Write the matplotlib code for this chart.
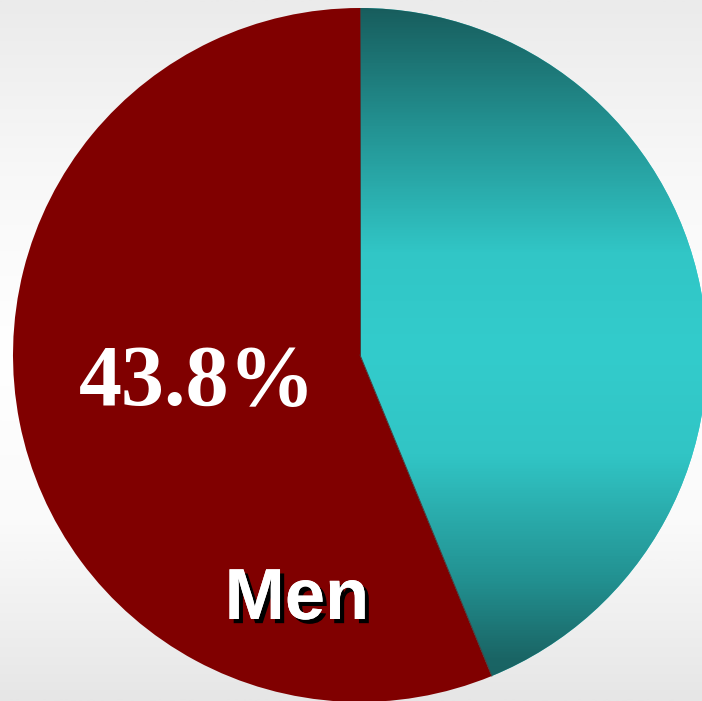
import numpy as np
import matplotlib
matplotlib.use("Agg")
import matplotlib.pyplot as plt
import matplotlib.patheffects as pe
from matplotlib.colors import LinearSegmentedColormap

# slice shares (percent), red slice first, going counterclockwise from 12 o'clock
labels = ["Men", "Women"]
shares = [56.2, 43.8]
colors = ["#800000", "#33cccc"]
pct_text = "43.8%"

W, H = 702, 701
fig = plt.figure(figsize=(W / 100, H / 100), dpi=100)
ax = fig.add_axes([0, 0, 1, 1])

# background: light grey at top and bottom, white in the middle
bg = LinearSegmentedColormap.from_list("bg", ["#e6e6e6", "#fafafa", "#ffffff", "#f8f8f8", "#ebebeb"])
grad = np.linspace(0, 1, 512).reshape(-1, 1)
ax.imshow(grad, cmap=bg, extent=[0, W, 0, H], aspect="auto", zorder=0, origin="lower")

wedges, _ = ax.pie(shares, colors=colors, startangle=90, counterclock=True,
                   center=(360, 346), radius=347, frame=True,
                   wedgeprops=dict(linewidth=0))
ax.set_xlim(0, W)
ax.set_ylim(0, H)
ax.set_aspect("auto")
ax.axis("off")
for w in wedges:
    w.set_zorder(2)

# thin line along the two radii that split the slices
cx, cy = wedges[0].center
r = wedges[0].r
for th in (wedges[0].theta1, wedges[0].theta2):
    t = np.deg2rad(th)
    ax.plot([cx, cx + r * np.cos(t)], [cy, cy + r * np.sin(t)],
            color="#4a3a3a", lw=0.7, zorder=4)

# teal slice gets a vertical gradient: dark at top and bottom, bright in the middle
teal = LinearSegmentedColormap.from_list("teal", [
    (0.00, "#176060"), (0.06, "#1a6565"), (0.17, "#229090"), (0.35, "#31c5c5"),
    (0.50, "#33cccc"), (0.64, "#31c6c6"), (0.82, "#239292"), (1.00, "#175a5a")])
im = ax.imshow(grad, cmap=teal, extent=[300, W, 0, H], aspect="auto",
               zorder=3, origin="lower")
im.set_clip_path(wedges[1])

ax.text(79, 296, pct_text, color="white", fontsize=62, fontweight="bold",
        family="Liberation Serif", ha="left", va="baseline", zorder=5)
ax.text(297, 82, labels[0], color="white", fontsize=52, fontweight="bold",
        family="Liberation Sans", ha="center", va="baseline", zorder=5,
        path_effects=[pe.withSimplePatchShadow(offset=(3, -3), shadow_rgbFace="black", alpha=1.0),
                      pe.Normal()])

fig.savefig("out.png", dpi=100)
